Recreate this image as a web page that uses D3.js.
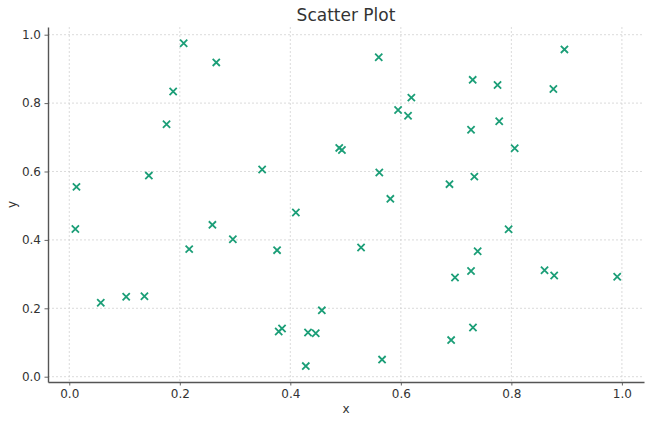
<!DOCTYPE html>
<html>
<head>
<meta charset="utf-8">
<script src="https://cdn.jsdelivr.net/npm/d3@7"></script>
<style>
  body { margin: 0; background: #fff; }
  svg { display: block; font-family: "DejaVu Sans", sans-serif; }
</style>
</head>
<body>
<script>
const xValues = [
  0.013, 0.144, 0.176, 0.188, 0.207, 0.266, 0.349,
  0.560, 0.4885, 0.4934, 0.561, 0.581, 0.595, 0.613, 0.619, 0.688, 0.727, 0.730,
  0.733, 0.775, 0.778, 0.806, 0.876, 0.896,
  0.011, 0.057, 0.103, 0.136, 0.217, 0.259, 0.296, 0.376, 0.379, 0.385, 0.410,
  0.428, 0.432, 0.446, 0.457,
  0.528, 0.566, 0.691, 0.698, 0.727, 0.7305, 0.739, 0.795, 0.860, 0.8775, 0.9915
];
const yValues = [
  0.555, 0.588, 0.738, 0.834, 0.975, 0.919, 0.606,
  0.934, 0.669, 0.663, 0.597, 0.520, 0.780, 0.763, 0.816, 0.563, 0.722, 0.868,
  0.585, 0.853, 0.747, 0.668, 0.841, 0.957,
  0.432, 0.216, 0.234, 0.235, 0.373, 0.444, 0.402, 0.370, 0.132, 0.141, 0.480,
  0.031, 0.129, 0.127, 0.194,
  0.378, 0.050, 0.107, 0.290, 0.309, 0.144, 0.367, 0.431, 0.311, 0.296, 0.292
];
const xTicks = [0.0, 0.2, 0.4, 0.6, 0.8, 1.0];
const yTicks = [0.0, 0.2, 0.4, 0.6, 0.8, 1.0];

const points = xValues.map((x, i) => ({ x: x, y: yValues[i] }));

const w = 653;
const h = 422;
const plotLeft = 48, plotRight = 644, plotTop = 27, plotBottom = 382;

const svg = d3.select("body")
  .append("svg")
  .attr("width", w)
  .attr("height", h);

const xScale = d3.scaleLinear()
  .domain([-0.0385, 1.04])
  .range([plotLeft, plotRight]);

const yScale = d3.scaleLinear()
  .domain([-0.0155, 1.0225])
  .range([plotBottom, plotTop]);

// grid
svg.append("g")
  .selectAll("line")
  .data(xTicks)
  .enter()
  .append("line")
  .attr("x1", (d) => xScale(d))
  .attr("x2", (d) => xScale(d))
  .attr("y1", plotTop)
  .attr("y2", plotBottom)
  .attr("stroke", "#d2d2d2")
  .attr("stroke-width", 0.8)
  .attr("stroke-dasharray", "2,2");

svg.append("g")
  .selectAll("line")
  .data(yTicks)
  .enter()
  .append("line")
  .attr("x1", plotLeft)
  .attr("x2", plotRight)
  .attr("y1", (d) => yScale(d))
  .attr("y2", (d) => yScale(d))
  .attr("stroke", "#d2d2d2")
  .attr("stroke-width", 0.8)
  .attr("stroke-dasharray", "2,2");

// axes
const xAxis = d3.axisBottom(xScale)
  .tickValues(xTicks)
  .tickFormat(d3.format(".1f"))
  .tickSizeInner(3.5)
  .tickSizeOuter(0)
  .tickPadding(3.5);

const yAxis = d3.axisLeft(yScale)
  .tickValues(yTicks)
  .tickFormat(d3.format(".1f"))
  .tickSizeInner(3.5)
  .tickSizeOuter(0)
  .tickPadding(3.5);

const gx = svg.append("g")
  .attr("transform", `translate(0, ${plotBottom})`)
  .call(xAxis);

const gy = svg.append("g")
  .attr("transform", `translate(${plotLeft}, 0)`)
  .call(yAxis);

[gx, gy].forEach((g) => {
  g.select(".domain").attr("stroke", "#555").attr("stroke-width", 1.4);
  g.selectAll(".tick line").attr("stroke", "#555").attr("stroke-width", 0.9);
  g.selectAll(".tick text")
    .attr("fill", "#333")
    .style("font-size", "12px")
    .style("font-family", "DejaVu Sans, sans-serif");
});

// markers
const cross = 3.6;
svg.append("g")
  .selectAll("path")
  .data(points)
  .enter()
  .append("path")
  .attr("transform", (d) => `translate(${xScale(d.x)}, ${yScale(d.y)})`)
  .attr("d", `M${-cross},${-cross}L${cross},${cross}M${-cross},${cross}L${cross},${-cross}`)
  .attr("stroke", "#1b9e77")
  .attr("stroke-width", 1.8)
  .attr("fill", "none");

// labels
svg.append("text")
  .attr("x", (plotLeft + plotRight) / 2)
  .attr("y", 21)
  .attr("text-anchor", "middle")
  .attr("fill", "#333")
  .style("font-size", "17px")
  .text("Scatter Plot");

svg.append("text")
  .attr("x", (plotLeft + plotRight) / 2)
  .attr("y", 413)
  .attr("text-anchor", "middle")
  .attr("fill", "#333")
  .style("font-size", "12px")
  .text("x");

svg.append("text")
  .attr("transform", `translate(16, ${(plotTop + plotBottom) / 2}) rotate(-90)`)
  .attr("text-anchor", "middle")
  .attr("fill", "#333")
  .style("font-size", "12px")
  .text("y");
</script>
</body>
</html>
